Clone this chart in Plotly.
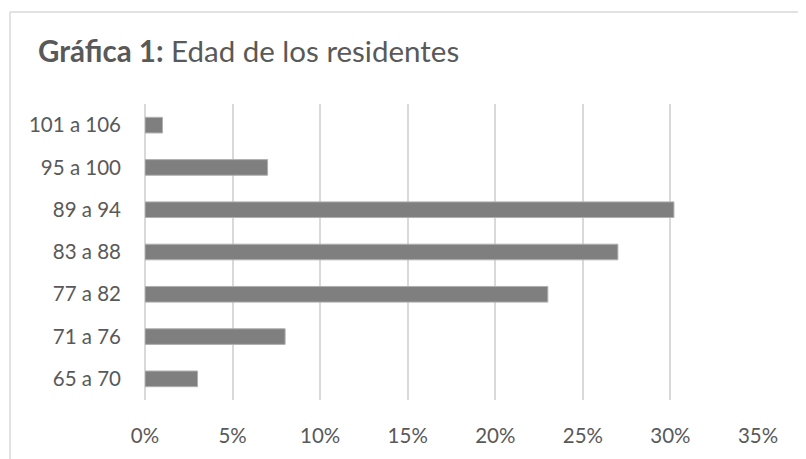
import plotly.graph_objects as go

categories = ["65 a 70", "71 a 76", "77 a 82", "83 a 88", "89 a 94", "95 a 100", "101 a 106"]
values = [3.0, 8.0, 23.0, 27.0, 30.2, 7.0, 1.0]
tick_vals = [0, 5, 10, 15, 20, 25, 30, 35]
tick_text = ["0%", "5%", "10%", "15%", "20%", "25%", "30%", "35%"]

# the page body adds an 8px offset; compensate
OFF = 8
W, H = 806 - OFF, 459 - OFF
L, R, T, B = 145 - OFF, 48, 104 - OFF, 56

fig = go.Figure()
fig.add_trace(go.Bar(
    x=values, y=categories, orientation="h",
    marker=dict(color="#7f7f7f", line=dict(color="#b0b0b0", width=1)),
    width=0.37,
    hoverinfo="x+y",
))

font_family = "Lato, Open Sans, sans-serif"
fig.update_layout(
    width=W, height=H,
    margin=dict(l=L, r=R, t=T, b=B, pad=0),
    paper_bgcolor="white", plot_bgcolor="white",
    showlegend=False,
    font=dict(family=font_family, color="#595959", size=20),
    title=dict(
        text="<b>Gráfica 1:</b> Edad de los residentes",
        x=(38 - OFF) / W, xref="container", xanchor="left",
        y=1 - (52 - OFF) / H, yref="container", yanchor="middle",
        font=dict(family=font_family, size=29.5, color="#595959"),
    ),
    xaxis=dict(
        range=[0, 35], tickvals=tick_vals, ticktext=tick_text,
        showgrid=True, gridcolor="#d9d9d9", gridwidth=1.5,
        zeroline=True, zerolinecolor="#d9d9d9", zerolinewidth=1.5,
        showline=False, ticks="", ticklabelstandoff=21,
        tickfont=dict(size=20.5, color="#595959"),
        fixedrange=True,
    ),
    yaxis=dict(
        categoryorder="array", categoryarray=categories,
        showgrid=False, zeroline=False, showline=False, ticks="",
        ticklabelstandoff=23,
        tickfont=dict(size=20.5, color="#595959"),
        fixedrange=True,
    ),
)

# chart frame (partially outside the cropped picture)
pw = W - L - R
ph = H - T - B
x0 = (10 - 145) / pw
y1 = (403 - 11) / ph
fig.add_shape(type="line", xref="paper", yref="paper",
              x0=x0, x1=x0, y0=-1, y1=y1, line=dict(color="#d9d9d9", width=1.5))
fig.add_shape(type="line", xref="paper", yref="paper",
              x0=x0, x1=1.5, y0=y1, y1=y1, line=dict(color="#d9d9d9", width=1.5))

fig.write_html("out.html")
